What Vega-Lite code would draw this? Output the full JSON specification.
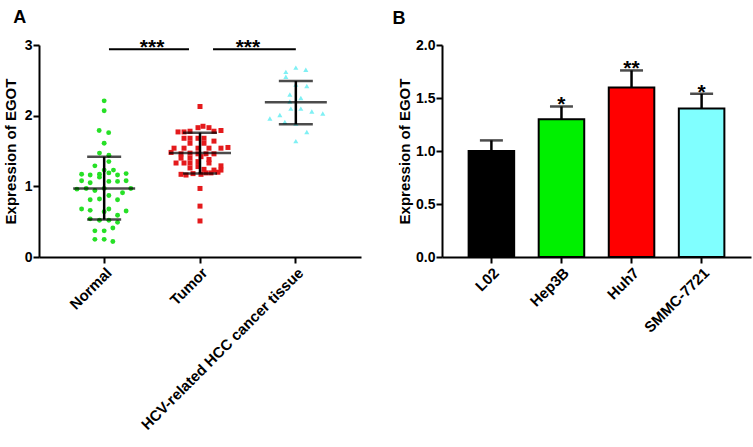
{
  "$schema": "https://vega.github.io/schema/vega-lite/v6.json",
  "background": "white",
  "padding": {"left": 3, "top": 9, "right": 3, "bottom": 3},
  "spacing": 31,
  "resolve": {"scale": {"color": "independent", "shape": "independent", "size": "independent", "xOffset": "independent"}},
  "config": {
    "font": "Liberation Sans",
    "view": {"stroke": null},
    "axis": {
      "grid": false,
      "domainColor": "black",
      "domainWidth": 2,
      "tickColor": "black",
      "tickWidth": 2,
      "tickSize": 6,
      "labelPadding": 1,
      "labelFont": "Liberation Sans",
      "labelFontWeight": "bold",
      "labelFontSize": 14,
      "labelColor": "black",
      "labelLimit": 400,
      "titleFont": "Liberation Sans",
      "titleFontWeight": "bold",
      "titleFontSize": 15,
      "titleColor": "black"
    },
    "axisX": {"labelFontSize": 15, "labelAngle": -45, "labelPadding": 2},
    "title": {"fontSize": 18, "fontWeight": "bold", "anchor": "start", "frame": "bounds", "color": "black", "font": "Liberation Sans"}
  },
  "datasets": {
    "pts": [
      {"group": "Normal", "jitter": 0, "value": 2.21},
      {"group": "Normal", "jitter": 0, "value": 2.07},
      {"group": "Normal", "jitter": -5, "value": 1.79},
      {"group": "Normal", "jitter": 4.5, "value": 1.76},
      {"group": "Normal", "jitter": 0, "value": 1.61},
      {"group": "Normal", "jitter": -4.7, "value": 1.47},
      {"group": "Normal", "jitter": 4.7, "value": 1.44},
      {"group": "Normal", "jitter": -9.3, "value": 1.29},
      {"group": "Normal", "jitter": 4.7, "value": 1.35},
      {"group": "Normal", "jitter": 0, "value": 1.23},
      {"group": "Normal", "jitter": -4.7, "value": 1.17},
      {"group": "Normal", "jitter": 4.7, "value": 1.19},
      {"group": "Normal", "jitter": -22.6, "value": 1.17},
      {"group": "Normal", "jitter": -14, "value": 1.16},
      {"group": "Normal", "jitter": 9.3, "value": 1.23},
      {"group": "Normal", "jitter": 13.4, "value": 1.16},
      {"group": "Normal", "jitter": 22, "value": 1.18},
      {"group": "Normal", "jitter": -22.6, "value": 1.08},
      {"group": "Normal", "jitter": -14, "value": 1.05},
      {"group": "Normal", "jitter": -4.7, "value": 1.13},
      {"group": "Normal", "jitter": 4.7, "value": 1.07},
      {"group": "Normal", "jitter": 13.4, "value": 1.07},
      {"group": "Normal", "jitter": 22, "value": 1.08},
      {"group": "Normal", "jitter": -27.3, "value": 0.96},
      {"group": "Normal", "jitter": -18, "value": 0.97},
      {"group": "Normal", "jitter": 0, "value": 0.97},
      {"group": "Normal", "jitter": 26.7, "value": 0.97},
      {"group": "Normal", "jitter": -9.3, "value": 0.94},
      {"group": "Normal", "jitter": 18.4, "value": 0.91},
      {"group": "Normal", "jitter": -14, "value": 0.81},
      {"group": "Normal", "jitter": -4.7, "value": 0.82},
      {"group": "Normal", "jitter": 13.4, "value": 0.81},
      {"group": "Normal", "jitter": 4.7, "value": 0.87},
      {"group": "Normal", "jitter": -22.6, "value": 0.68},
      {"group": "Normal", "jitter": -14, "value": 0.66},
      {"group": "Normal", "jitter": 0, "value": 0.64},
      {"group": "Normal", "jitter": 4.7, "value": 0.68},
      {"group": "Normal", "jitter": 13.4, "value": 0.59},
      {"group": "Normal", "jitter": 22, "value": 0.65},
      {"group": "Normal", "jitter": -14, "value": 0.54},
      {"group": "Normal", "jitter": -4.7, "value": 0.52},
      {"group": "Normal", "jitter": 4.7, "value": 0.52},
      {"group": "Normal", "jitter": 13.4, "value": 0.49},
      {"group": "Normal", "jitter": -9.3, "value": 0.37},
      {"group": "Normal", "jitter": 0, "value": 0.37},
      {"group": "Normal", "jitter": 8.7, "value": 0.41},
      {"group": "Normal", "jitter": -9.3, "value": 0.25},
      {"group": "Normal", "jitter": 0, "value": 0.25},
      {"group": "Normal", "jitter": 8.7, "value": 0.22},

      {"group": "Tumor", "jitter": 0, "value": 2.13},
      {"group": "Tumor", "jitter": -22, "value": 1.77},
      {"group": "Tumor", "jitter": -16, "value": 1.77},
      {"group": "Tumor", "jitter": -10, "value": 1.78},
      {"group": "Tumor", "jitter": -2, "value": 1.83},
      {"group": "Tumor", "jitter": 3, "value": 1.85},
      {"group": "Tumor", "jitter": 9, "value": 1.83},
      {"group": "Tumor", "jitter": 14, "value": 1.78},
      {"group": "Tumor", "jitter": 21, "value": 1.79},
      {"group": "Tumor", "jitter": -16, "value": 1.68},
      {"group": "Tumor", "jitter": -10, "value": 1.68},
      {"group": "Tumor", "jitter": -2, "value": 1.68},
      {"group": "Tumor", "jitter": 4, "value": 1.68},
      {"group": "Tumor", "jitter": 14, "value": 1.64},
      {"group": "Tumor", "jitter": -10, "value": 1.61},
      {"group": "Tumor", "jitter": 4, "value": 1.61},
      {"group": "Tumor", "jitter": -26, "value": 1.54},
      {"group": "Tumor", "jitter": -16, "value": 1.54},
      {"group": "Tumor", "jitter": -2, "value": 1.54},
      {"group": "Tumor", "jitter": 9, "value": 1.54},
      {"group": "Tumor", "jitter": 21, "value": 1.54},
      {"group": "Tumor", "jitter": 28, "value": 1.55},
      {"group": "Tumor", "jitter": -29, "value": 1.48},
      {"group": "Tumor", "jitter": -19, "value": 1.46},
      {"group": "Tumor", "jitter": -10, "value": 1.47},
      {"group": "Tumor", "jitter": -2, "value": 1.46},
      {"group": "Tumor", "jitter": 6, "value": 1.46},
      {"group": "Tumor", "jitter": 14, "value": 1.46},
      {"group": "Tumor", "jitter": -19, "value": 1.40},
      {"group": "Tumor", "jitter": -10, "value": 1.40},
      {"group": "Tumor", "jitter": 1, "value": 1.42},
      {"group": "Tumor", "jitter": 9, "value": 1.38},
      {"group": "Tumor", "jitter": -24, "value": 1.33},
      {"group": "Tumor", "jitter": -16, "value": 1.33},
      {"group": "Tumor", "jitter": -10, "value": 1.33},
      {"group": "Tumor", "jitter": -2, "value": 1.35},
      {"group": "Tumor", "jitter": 9, "value": 1.33},
      {"group": "Tumor", "jitter": 21, "value": 1.29},
      {"group": "Tumor", "jitter": -10, "value": 1.26},
      {"group": "Tumor", "jitter": -2, "value": 1.28},
      {"group": "Tumor", "jitter": 4, "value": 1.24},
      {"group": "Tumor", "jitter": 14, "value": 1.23},
      {"group": "Tumor", "jitter": 21, "value": 1.23},
      {"group": "Tumor", "jitter": -19, "value": 1.17},
      {"group": "Tumor", "jitter": -14, "value": 1.16},
      {"group": "Tumor", "jitter": -7, "value": 1.18},
      {"group": "Tumor", "jitter": 1, "value": 1.17},
      {"group": "Tumor", "jitter": 6, "value": 1.19},
      {"group": "Tumor", "jitter": 11, "value": 1.19},
      {"group": "Tumor", "jitter": 18, "value": 1.20},
      {"group": "Tumor", "jitter": 0, "value": 0.97},
      {"group": "Tumor", "jitter": 0, "value": 0.72},
      {"group": "Tumor", "jitter": 0, "value": 0.51},

      {"group": "HCV-related HCC cancer tissue", "jitter": 0, "value": 2.68},
      {"group": "HCV-related HCC cancer tissue", "jitter": 10, "value": 2.65},
      {"group": "HCV-related HCC cancer tissue", "jitter": -10, "value": 2.62},
      {"group": "HCV-related HCC cancer tissue", "jitter": -10, "value": 2.55},
      {"group": "HCV-related HCC cancer tissue", "jitter": 0, "value": 2.44},
      {"group": "HCV-related HCC cancer tissue", "jitter": 11, "value": 2.42},
      {"group": "HCV-related HCC cancer tissue", "jitter": -6, "value": 2.30},
      {"group": "HCV-related HCC cancer tissue", "jitter": 5, "value": 2.25},
      {"group": "HCV-related HCC cancer tissue", "jitter": -6, "value": 2.20},
      {"group": "HCV-related HCC cancer tissue", "jitter": -5, "value": 2.10},
      {"group": "HCV-related HCC cancer tissue", "jitter": 5, "value": 2.10},
      {"group": "HCV-related HCC cancer tissue", "jitter": 16, "value": 2.06},
      {"group": "HCV-related HCC cancer tissue", "jitter": 27, "value": 2.03},
      {"group": "HCV-related HCC cancer tissue", "jitter": -16, "value": 2.01},
      {"group": "HCV-related HCC cancer tissue", "jitter": -26, "value": 1.96},
      {"group": "HCV-related HCC cancer tissue", "jitter": -11, "value": 1.91},
      {"group": "HCV-related HCC cancer tissue", "jitter": 0, "value": 1.89},
      {"group": "HCV-related HCC cancer tissue", "jitter": 11, "value": 1.77},
      {"group": "HCV-related HCC cancer tissue", "jitter": 0, "value": 1.64}
    ],
    "summary": [
      {"group": "Normal", "mean": 0.97, "lower": 0.53, "upper": 1.42},
      {"group": "Tumor", "mean": 1.47, "lower": 1.18, "upper": 1.76},
      {"group": "HCV-related HCC cancer tissue", "mean": 2.19, "lower": 1.88, "upper": 2.49}
    ],
    "sig": [
      {"from": "Normal", "to": "Tumor", "y": 2.94, "label": "***"},
      {"from": "Tumor", "to": "HCV-related HCC cancer tissue", "y": 2.94, "label": "***"}
    ],
    "cells": [
      {"cell": "L02", "value": 1.0, "err": 1.1, "label": ""},
      {"cell": "Hep3B", "value": 1.3, "err": 1.42, "label": "*"},
      {"cell": "Huh7", "value": 1.6, "err": 1.76, "label": "**"},
      {"cell": "SMMC-7721", "value": 1.4, "err": 1.54, "label": "*"}
    ]
  },
  "hconcat": [
    {
      "width": 322,
      "height": 212,
      "title": {"text": "A", "dx": 10, "offset": 10},
      "layer": [
        {
          "data": {"name": "pts"},
          "mark": {"type": "point", "filled": true, "opacity": 1},
          "encoding": {
            "x": {"field": "group", "type": "nominal",
              "scale": {"type": "band", "domain": ["Normal", "Tumor", "HCV-related HCC cancer tissue"], "paddingInner": 0, "paddingOuter": 0.18},
              "axis": {"title": null, "labelAngle": -45}},
            "xOffset": {"field": "jitter", "type": "quantitative", "scale": {"domain": [-48, 48]}},
            "y": {"field": "value", "type": "quantitative", "scale": {"domain": [0, 3]},
              "axis": {"values": [0, 1, 2, 3], "format": "d", "title": "Expression of EGOT", "titlePadding": 6}},
            "color": {"field": "group", "type": "nominal", "legend": null,
              "scale": {"domain": ["Normal", "Tumor", "HCV-related HCC cancer tissue"], "range": ["#26e026", "#e41a1c", "#7ff0f4"]}},
            "shape": {"field": "group", "type": "nominal", "legend": null,
              "scale": {"domain": ["Normal", "Tumor", "HCV-related HCC cancer tissue"], "range": ["circle", "square", "triangle-up"]}},
            "size": {"field": "group", "type": "nominal", "legend": null,
              "scale": {"domain": ["Normal", "Tumor", "HCV-related HCC cancer tissue"], "range": [24, 26, 42]}}
          }
        },
        {
          "data": {"name": "summary"},
          "mark": {"type": "tick", "orient": "horizontal", "size": 62, "thickness": 2.5, "color": "black"},
          "encoding": {
            "x": {"field": "group", "type": "nominal"},
            "y": {"field": "mean", "type": "quantitative"}
          }
        },
        {
          "data": {"name": "summary"},
          "mark": {"type": "tick", "orient": "horizontal", "size": 34, "thickness": 2.5, "color": "black"},
          "encoding": {
            "x": {"field": "group", "type": "nominal"},
            "y": {"field": "upper", "type": "quantitative"}
          }
        },
        {
          "data": {"name": "summary"},
          "mark": {"type": "tick", "orient": "horizontal", "size": 34, "thickness": 2.5, "color": "black"},
          "encoding": {
            "x": {"field": "group", "type": "nominal"},
            "y": {"field": "lower", "type": "quantitative"}
          }
        },
        {
          "data": {"name": "summary"},
          "mark": {"type": "rule", "strokeWidth": 2.5, "color": "black"},
          "encoding": {
            "x": {"field": "group", "type": "nominal"},
            "y": {"field": "lower", "type": "quantitative"},
            "y2": {"field": "upper"}
          }
        },
        {
          "data": {"name": "sig"},
          "transform": [{"filter": "datum.from === 'Normal'"}],
          "mark": {"type": "rule", "strokeWidth": 2, "color": "black"},
          "encoding": {
            "x": {"field": "from", "type": "nominal", "bandPosition": 0.55},
            "x2": {"field": "to", "bandPosition": 0.385},
            "y": {"field": "y", "type": "quantitative"}
          }
        },
        {
          "data": {"name": "sig"},
          "transform": [{"filter": "datum.from === 'Tumor'"}],
          "mark": {"type": "rule", "strokeWidth": 2, "color": "black"},
          "encoding": {
            "x": {"field": "from", "type": "nominal", "bandPosition": 0.636},
            "x2": {"field": "to", "bandPosition": 0.5},
            "y": {"field": "y", "type": "quantitative"}
          }
        },
        {
          "data": {"name": "sig"},
          "mark": {"type": "text", "fontSize": 21, "fontWeight": "bold", "baseline": "alphabetic", "dy": 5, "color": "black"},
          "encoding": {
            "x": {"field": "from", "type": "nominal", "bandPosition": 1},
            "y": {"field": "y", "type": "quantitative"},
            "text": {"field": "label"}
          }
        }
      ]
    },
    {
      "width": 309,
      "height": 212,
      "title": {"text": "B", "dx": -5, "offset": 10},
      "data": {"name": "cells"},
      "layer": [
        {
          "mark": {"type": "bar", "stroke": "black", "strokeWidth": 2, "width": {"band": 1}},
          "encoding": {
            "x": {"field": "cell", "type": "nominal", "sort": null,
              "scale": {"type": "band", "domain": ["L02", "Hep3B", "Huh7", "SMMC-7721"], "paddingInner": 0.35, "paddingOuter": 0.38},
              "axis": {"title": null, "labelAngle": -45}},
            "y": {"field": "value", "type": "quantitative", "scale": {"domain": [0, 2]},
              "axis": {"values": [0, 0.5, 1, 1.5, 2], "format": ".1f", "title": "Expression of EGOT", "titlePadding": 3}},
            "color": {"field": "cell", "type": "nominal", "legend": null,
              "scale": {"domain": ["L02", "Hep3B", "Huh7", "SMMC-7721"], "range": ["#000000", "#00f000", "#ff0000", "#80ffff"]}}
          }
        },
        {
          "mark": {"type": "rule", "strokeWidth": 2.5, "color": "black"},
          "encoding": {
            "x": {"field": "cell", "type": "nominal", "sort": null},
            "y": {"field": "value", "type": "quantitative"},
            "y2": {"field": "err"}
          }
        },
        {
          "mark": {"type": "tick", "orient": "horizontal", "size": 23, "thickness": 2.5, "color": "black"},
          "encoding": {
            "x": {"field": "cell", "type": "nominal", "sort": null},
            "y": {"field": "err", "type": "quantitative"}
          }
        },
        {
          "mark": {"type": "text", "fontSize": 21, "fontWeight": "bold", "baseline": "alphabetic", "dy": 5, "color": "black"},
          "encoding": {
            "x": {"field": "cell", "type": "nominal", "sort": null},
            "y": {"field": "err", "type": "quantitative"},
            "text": {"field": "label"}
          }
        }
      ]
    }
  ]
}
